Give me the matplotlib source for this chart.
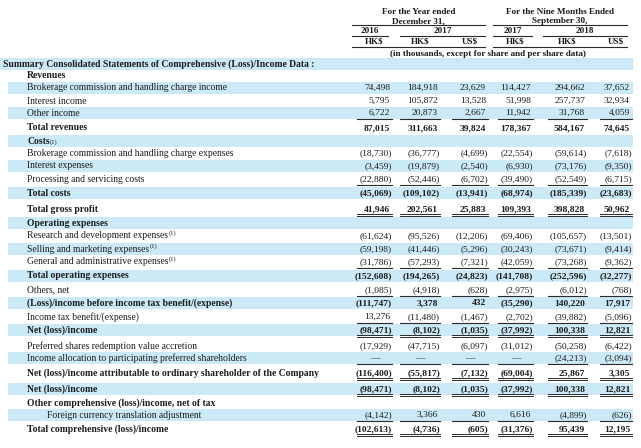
import matplotlib
matplotlib.use("Agg")
import matplotlib.pyplot as plt
from matplotlib.patches import Rectangle

# ---------------- data ----------------
col_years_1 = ["2016", "2017"]
col_years_2 = ["2017", "2018"]
col_currency = ["HK$", "HK$", "US$", "HK$", "HK$", "US$"]
group_titles = [("For the Year ended", "December 31,"), ("For the Nine Months Ended", "September 30,")]
units_note = "(in thousands, except for share and per share data)"
title_row = "Summary Consolidated Statements of Comprehensive (Loss)/Income Data :"

row_labels = [
    "Revenues",
    "Brokerage commission and handling charge income",
    "Interest income",
    "Other income",
    "Total revenues",
    "Costs",
    "Brokerage commission and handling charge expenses",
    "Interest expenses",
    "Processing and servicing costs",
    "Total costs",
    "Total gross profit",
    "Operating expenses",
    "Research and development expenses",
    "Selling and marketing expenses",
    "General and administrative expenses",
    "Total operating expenses",
    "Others, net",
    "(Loss)/income before income tax benefit/(expense)",
    "Income tax benefit/(expense)",
    "Net (loss)/income",
    "Preferred shares redemption value accretion",
    "Income allocation to participating preferred shareholders",
    "Net (loss)/income attributable to ordinary shareholder of the Company",
    "Net (loss)/income",
    "Other comprehensive (loss)/income, net of tax",
    "Foreign currency translation adjustment",
    "Total comprehensive (loss)/income",
]
label_notes = {5: "(1)", 12: "(1)", 13: "(1)", 14: "(1)"}
bold_rows = {0, 4, 5, 9, 10, 11, 15, 17, 19, 22, 23, 24, 26}
indent2_rows = {25}

brokerage_income = [74498, 184918, 23629, 114427, 294662, 37652]
interest_income = [5795, 105872, 13528, 51998, 257737, 32934]
other_income = [6722, 20873, 2667, 11942, 31768, 4059]
total_revenues = [87015, 311663, 39824, 178367, 584167, 74645]
brokerage_expenses = [-18730, -36777, -4699, -22554, -59614, -7618]
interest_expenses = [-3459, -19879, -2540, -6930, -73176, -9350]
processing_costs = [-22880, -52446, -6702, -39490, -52549, -6715]
total_costs = [-45069, -109102, -13941, -68974, -185339, -23683]
gross_profit = [41946, 202561, 25883, 109393, 398828, 50962]
rd_expenses = [-61624, -95526, -12206, -69406, -105657, -13501]
selling_expenses = [-59198, -41446, -5296, -30243, -73671, -9414]
ga_expenses = [-31786, -57293, -7321, -42059, -73268, -9362]
total_opex = [-152608, -194265, -24823, -141708, -252596, -32277]
others_net = [-1085, -4918, -628, -2975, -6012, -768]
income_before_tax = [-111747, 3378, 432, -35290, 140220, 17917]
income_tax = [13276, -11480, -1467, -2702, -39882, -5096]
net_income = [-98471, -8102, -1035, -37992, 100338, 12821]
preferred_accretion = [-17929, -47715, -6097, -31012, -50258, -6422]
income_allocation = [None, None, None, None, -24213, -3094]
net_income_ordinary = [-116400, -55817, -7132, -69004, 25867, 3305]
fx_adjustment = [-4142, 3366, 430, 6616, -4899, -626]
total_comprehensive = [-102613, -4736, -605, -31376, 95439, 12195]

row_values = [
    None, brokerage_income, interest_income, other_income, total_revenues,
    None, brokerage_expenses, interest_expenses, processing_costs, total_costs,
    gross_profit, None, rd_expenses, selling_expenses, ga_expenses, total_opex,
    others_net, income_before_tax, income_tax, net_income, preferred_accretion,
    income_allocation, net_income_ordinary, net_income, None, fx_adjustment,
    total_comprehensive,
]
# underline styles: 1 = single, 2 = double
underlines = {3: 1, 8: 1, 10: 2, 14: 1, 16: 1, 18: 1, 19: 2, 21: 1, 22: 2, 23: 2, 25: 1, 26: 2}

# ---------------- layout ----------------
row_y = [76, 88, 101, 113, 128, 141, 153, 166, 179, 193, 209, 223, 236, 249, 262,
         276, 290, 303, 317, 330, 346, 358, 373, 389, 403, 415, 429]
title_y = 64
col_left = [357, 400, 452, 498, 548, 600]
col_right = [392, 440, 488, 533, 587, 632]
band_color = "#cbe9f6"
txt_color = "#1c1c1c"
line_color = "#2a2a2a"
FONT = "Liberation Serif"
fs = 6.9
fs_num = 6.8
fs_head = 6.6

fig = plt.figure(figsize=(6.41, 4.48), dpi=100)
ax = fig.add_axes([0, 0, 1, 1])
ax.set_xlim(0, 641)
ax.set_ylim(448, 0)
ax.axis("off")


def fmt(v):
    if v is None:
        return "\u2014"
    if v < 0:
        return "({:,})".format(-v)
    return "{:,}".format(v)


# bands
ax.add_patch(Rectangle((0, title_y - 6), 633, 12, color=band_color, lw=0, zorder=0))
for i, y in enumerate(row_y):
    if i % 2 == 1:
        ax.add_patch(Rectangle((8, y - 6), 625, 12, color=band_color, lw=0, zorder=0))

# header
gx = [(352, 485), (493, 627)]
for (x0, x1), (t1, t2) in zip(gx, group_titles):
    cx = (x0 + x1) / 2
    ax.text(cx, 12, t1, ha="center", va="center", fontsize=fs_head, fontweight="bold",
            family=FONT, color=txt_color)
    ax.text(cx, 21, t2, ha="center", va="center", fontsize=fs_head, fontweight="bold",
            family=FONT, color=txt_color)
    ax.plot([x0, x1], [25, 25], color=line_color, lw=0.8)

year_spans = [(352, 388, col_years_1[0]), (400, 485, col_years_1[1]),
              (493, 532, col_years_2[0]), (543, 627, col_years_2[1])]
for x0, x1, t in year_spans:
    ax.text((x0 + x1) / 2, 31, t, ha="center", va="center", fontsize=fs_head,
            fontweight="bold", family=FONT, color=txt_color)
    ax.plot([x0, x1], [36, 36], color=line_color, lw=0.8)

for j, cur in enumerate(col_currency):
    cx = (col_left[j] + col_right[j]) / 2
    ax.text(cx, 41.5, cur, ha="center", va="center", fontsize=fs_head, fontweight="bold",
            family=FONT, color=txt_color)
ax.plot([352, 485], [47, 47], color=line_color, lw=0.8)
ax.plot([493, 627], [47, 47], color=line_color, lw=0.8)
ax.text(488, 53.5, units_note, ha="center", va="center", fontsize=fs_head,
        fontweight="bold", family=FONT, color=txt_color)

ax.text(3, title_y, title_row, ha="left", va="center", fontsize=fs, fontweight="bold",
        family=FONT, color=txt_color)

fig.canvas.draw()
renderer = fig.canvas.get_renderer()
inv = ax.transData.inverted()

for i, (lab, y) in enumerate(zip(row_labels, row_y)):
    bold = i in bold_rows
    x = 47 if i in indent2_rows else 27
    t = ax.text(x, y, lab, ha="left", va="center", fontsize=fs,
                fontweight="bold" if bold else "normal", family=FONT, color=txt_color)
    if i in label_notes:
        bb = t.get_window_extent(renderer=renderer)
        xe = inv.transform((bb.x1, bb.y0))[0]
        dy = 1.5 if i == 5 else -2.5
        ax.text(xe + 0.5, y + dy, label_notes[i], ha="left", va="center", fontsize=4.7,
                family=FONT, color=txt_color)
    vals = row_values[i]
    if vals is not None:
        for j, v in enumerate(vals):
            s = fmt(v)
            if v is None:
                cx = (col_left[j] + col_right[j]) / 2
                ax.text(cx, y, s, ha="center", va="center", fontsize=fs_num,
                        family=FONT, color=txt_color)
            else:
                xr = col_right[j] if v < 0 else col_right[j] - 2
                ax.text(xr, y, s, ha="right", va="center", fontsize=fs_num,
                        fontweight="bold" if bold else "normal", family=FONT,
                        color=txt_color)
    if i in underlines:
        kind = underlines[i]
        for j in range(6):
            if kind == 1:
                ax.plot([col_left[j], col_right[j]], [y + 6, y + 6], color=line_color, lw=0.8)
            else:
                ax.plot([col_left[j], col_right[j]], [y + 5, y + 5], color=line_color, lw=0.7)
                ax.plot([col_left[j], col_right[j]], [y + 7.5, y + 7.5], color=line_color, lw=0.7)

fig.savefig("out.png", dpi=100, facecolor="white")
